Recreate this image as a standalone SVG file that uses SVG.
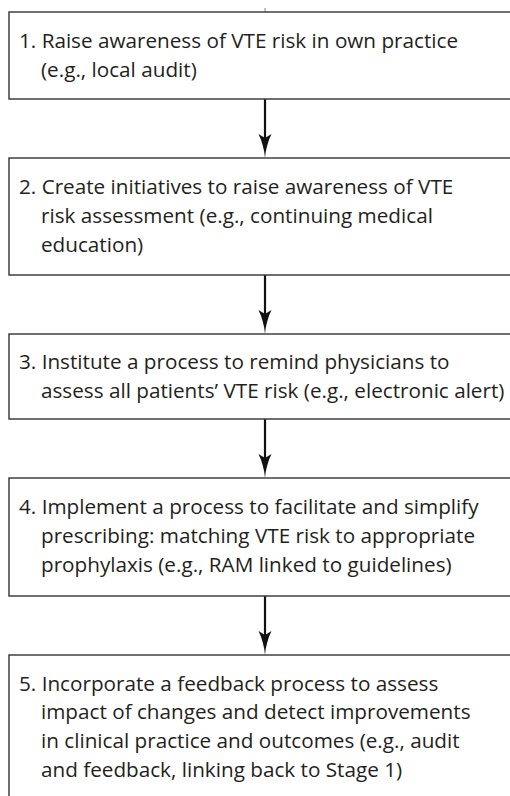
<svg xmlns="http://www.w3.org/2000/svg" width="510" height="796" viewBox="0 0 510 796">
<style>
.box{fill:#fff;stroke:#333;stroke-width:1.4}
.t{font-family:"Open Sans","Noto Sans","Liberation Sans",sans-serif;font-size:20.7px;fill:#231f20}
.ln{stroke:#111;stroke-width:2.2;fill:none}
.hd{fill:#111}
</style>
<rect width="510" height="796" fill="#fff"/>
<g id="connectors">
<line x1="265" y1="8" x2="265" y2="12" stroke="#888" stroke-width="1"/>
<line class="ln" x1="265" y1="99" x2="265" y2="140"/>
<path class="hd" d="M265,158 C264.4,150 262,141 258.5,134 L265,138 L271.5,134 C268,141 265.6,150 265,158 Z"/>
<line class="ln" x1="265" y1="275" x2="265" y2="316"/>
<path class="hd" d="M265,334 C264.4,326 262,317 258.5,310 L265,314 L271.5,310 C268,317 265.6,326 265,334 Z"/>
<line class="ln" x1="265" y1="419" x2="265" y2="460"/>
<path class="hd" d="M265,478 C264.4,470 262,461 258.5,454 L265,458 L271.5,454 C268,461 265.6,470 265,478 Z"/>
<line class="ln" x1="265" y1="596" x2="265" y2="637"/>
<path class="hd" d="M265,655 C264.4,647 262,638 258.5,631 L265,635 L271.5,631 C268,638 265.6,647 265,655 Z"/>
</g>
<g id="node1">
<rect class="box" x="9" y="12" width="512" height="87"/>
<text class="t" x="19" y="48">1. Raise awareness of VTE risk in own practice</text>
<text class="t" x="41" y="77">(e.g., local audit)</text>
</g>
<g id="node2">
<rect class="box" x="9" y="158" width="512" height="117"/>
<text class="t" x="19" y="194">2. Create initiatives to raise awareness of VTE</text>
<text class="t" x="41" y="223">risk assessment (e.g., continuing medical</text>
<text class="t" x="41" y="252">education)</text>
</g>
<g id="node3">
<rect class="box" x="9" y="334" width="512" height="85"/>
<text class="t" x="19" y="369">3. Institute a process to remind physicians to</text>
<text class="t" x="41" y="398">assess all patients’ VTE risk (e.g., electronic alert)</text>
</g>
<g id="node4">
<rect class="box" x="9" y="478" width="512" height="118"/>
<text class="t" x="19" y="514">4. Implement a process to facilitate and simplify</text>
<text class="t" x="41" y="543">prescribing: matching VTE risk to appropriate</text>
<text class="t" x="41" y="572">prophylaxis (e.g., RAM linked to guidelines)</text>
</g>
<g id="node5">
<rect class="box" x="9" y="655" width="512" height="160"/>
<text class="t" x="19" y="690.5">5. Incorporate a feedback process to assess</text>
<text class="t" x="41" y="719">impact of changes and detect improvements</text>
<text class="t" x="41" y="748">in clinical practice and outcomes (e.g., audit</text>
<text class="t" x="41" y="777">and feedback, linking back to Stage 1)</text>
</g>
</svg>
